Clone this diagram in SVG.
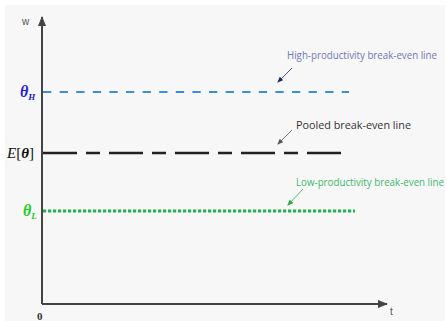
<svg xmlns="http://www.w3.org/2000/svg" width="447" height="321" viewBox="0 0 447 321">
<style>
.lbl{font-family:"Open Sans","Liberation Sans",sans-serif;font-size:10px}
.math{font-family:"Liberation Serif",serif;font-style:italic}
.axis{stroke:#444;stroke-width:2;fill:none}
</style>
<defs>
<marker id="ax" markerWidth="10" markerHeight="8" refX="9" refY="4" orient="auto" markerUnits="userSpaceOnUse"><path d="M0,0 L10,4 L0,8 Z" fill="#444"/></marker>
<marker id="pb" markerWidth="6" markerHeight="5" refX="5" refY="2.5" orient="auto" markerUnits="userSpaceOnUse"><path d="M0,0 L6,2.5 L0,5 Z" fill="#1a2a5a"/></marker>
<marker id="pk" markerWidth="6" markerHeight="5" refX="5" refY="2.5" orient="auto" markerUnits="userSpaceOnUse"><path d="M0,0 L6,2.5 L0,5 Z" fill="#555"/></marker>
<marker id="pg" markerWidth="6" markerHeight="5" refX="5" refY="2.5" orient="auto" markerUnits="userSpaceOnUse"><path d="M0,0 L6,2.5 L0,5 Z" fill="#2aa84a"/></marker>
</defs>
<rect x="0" y="0" width="447" height="321" fill="#ffffff"/>
<rect x="5" y="5" width="440" height="316" fill="#f7f7f7"/>
<g id="axes">
<line class="axis" x1="42" y1="304" x2="42" y2="17" marker-end="url(#ax)"/>
<line class="axis" x1="42" y1="304" x2="387" y2="304" marker-end="url(#ax)"/>
<text x="22" y="25" font-family="Liberation Sans,sans-serif" font-size="10" fill="#555">w</text>
<text x="390" y="315" font-family="Liberation Sans,sans-serif" font-size="10" fill="#555">t</text>
<text x="37" y="320" font-family="Liberation Serif,serif" font-size="11" font-weight="bold" fill="#333">0</text>
</g>
<g id="high">
<line x1="43" y1="92" x2="349" y2="92" stroke="#3a8fd8" stroke-width="2" stroke-dasharray="8.3 8.3"/>
<text class="math" x="20" y="97" font-size="16" font-weight="bold" fill="#2020dd">θ<tspan font-size="9" dy="3">H</tspan></text>
<text class="lbl" x="287" y="59" fill="#7076b4" textLength="150" lengthAdjust="spacingAndGlyphs">High-productivity break-even line</text>
</g>
<g id="pooled">
<line x1="43" y1="153" x2="344" y2="153" stroke="#222" stroke-width="2.3" stroke-dasharray="34 9 14 9"/>
<text class="math" x="7" y="158" font-size="15" fill="#111">E<tspan font-style="normal">[</tspan><tspan font-weight="bold">θ</tspan><tspan font-style="normal">]</tspan></text>
<text class="lbl" x="296" y="129" font-size="11" fill="#333" textLength="115" lengthAdjust="spacingAndGlyphs">Pooled break-even line</text>
</g>
<g id="low">
<line x1="43" y1="211" x2="355" y2="211" stroke="#22b14c" stroke-width="3" stroke-dasharray="3.2 1.8"/>
<text class="math" x="23" y="216" font-size="16" font-weight="bold" fill="#22cc22">θ<tspan font-size="9" dy="3">L</tspan></text>
<text class="lbl" x="296" y="186" fill="#3cb86a" textLength="148" lengthAdjust="spacingAndGlyphs">Low-productivity break-even line</text>
</g>
<g id="connectors">
<line x1="292" y1="68" x2="278" y2="82" stroke="#1a2a5a" stroke-width="0.8" marker-end="url(#pb)"/>
<line x1="292" y1="130" x2="278" y2="144" stroke="#555" stroke-width="0.8" marker-end="url(#pk)"/>
<line x1="303" y1="189" x2="288" y2="205" stroke="#2aa84a" stroke-width="0.8" marker-end="url(#pg)"/>
</g>
</svg>
